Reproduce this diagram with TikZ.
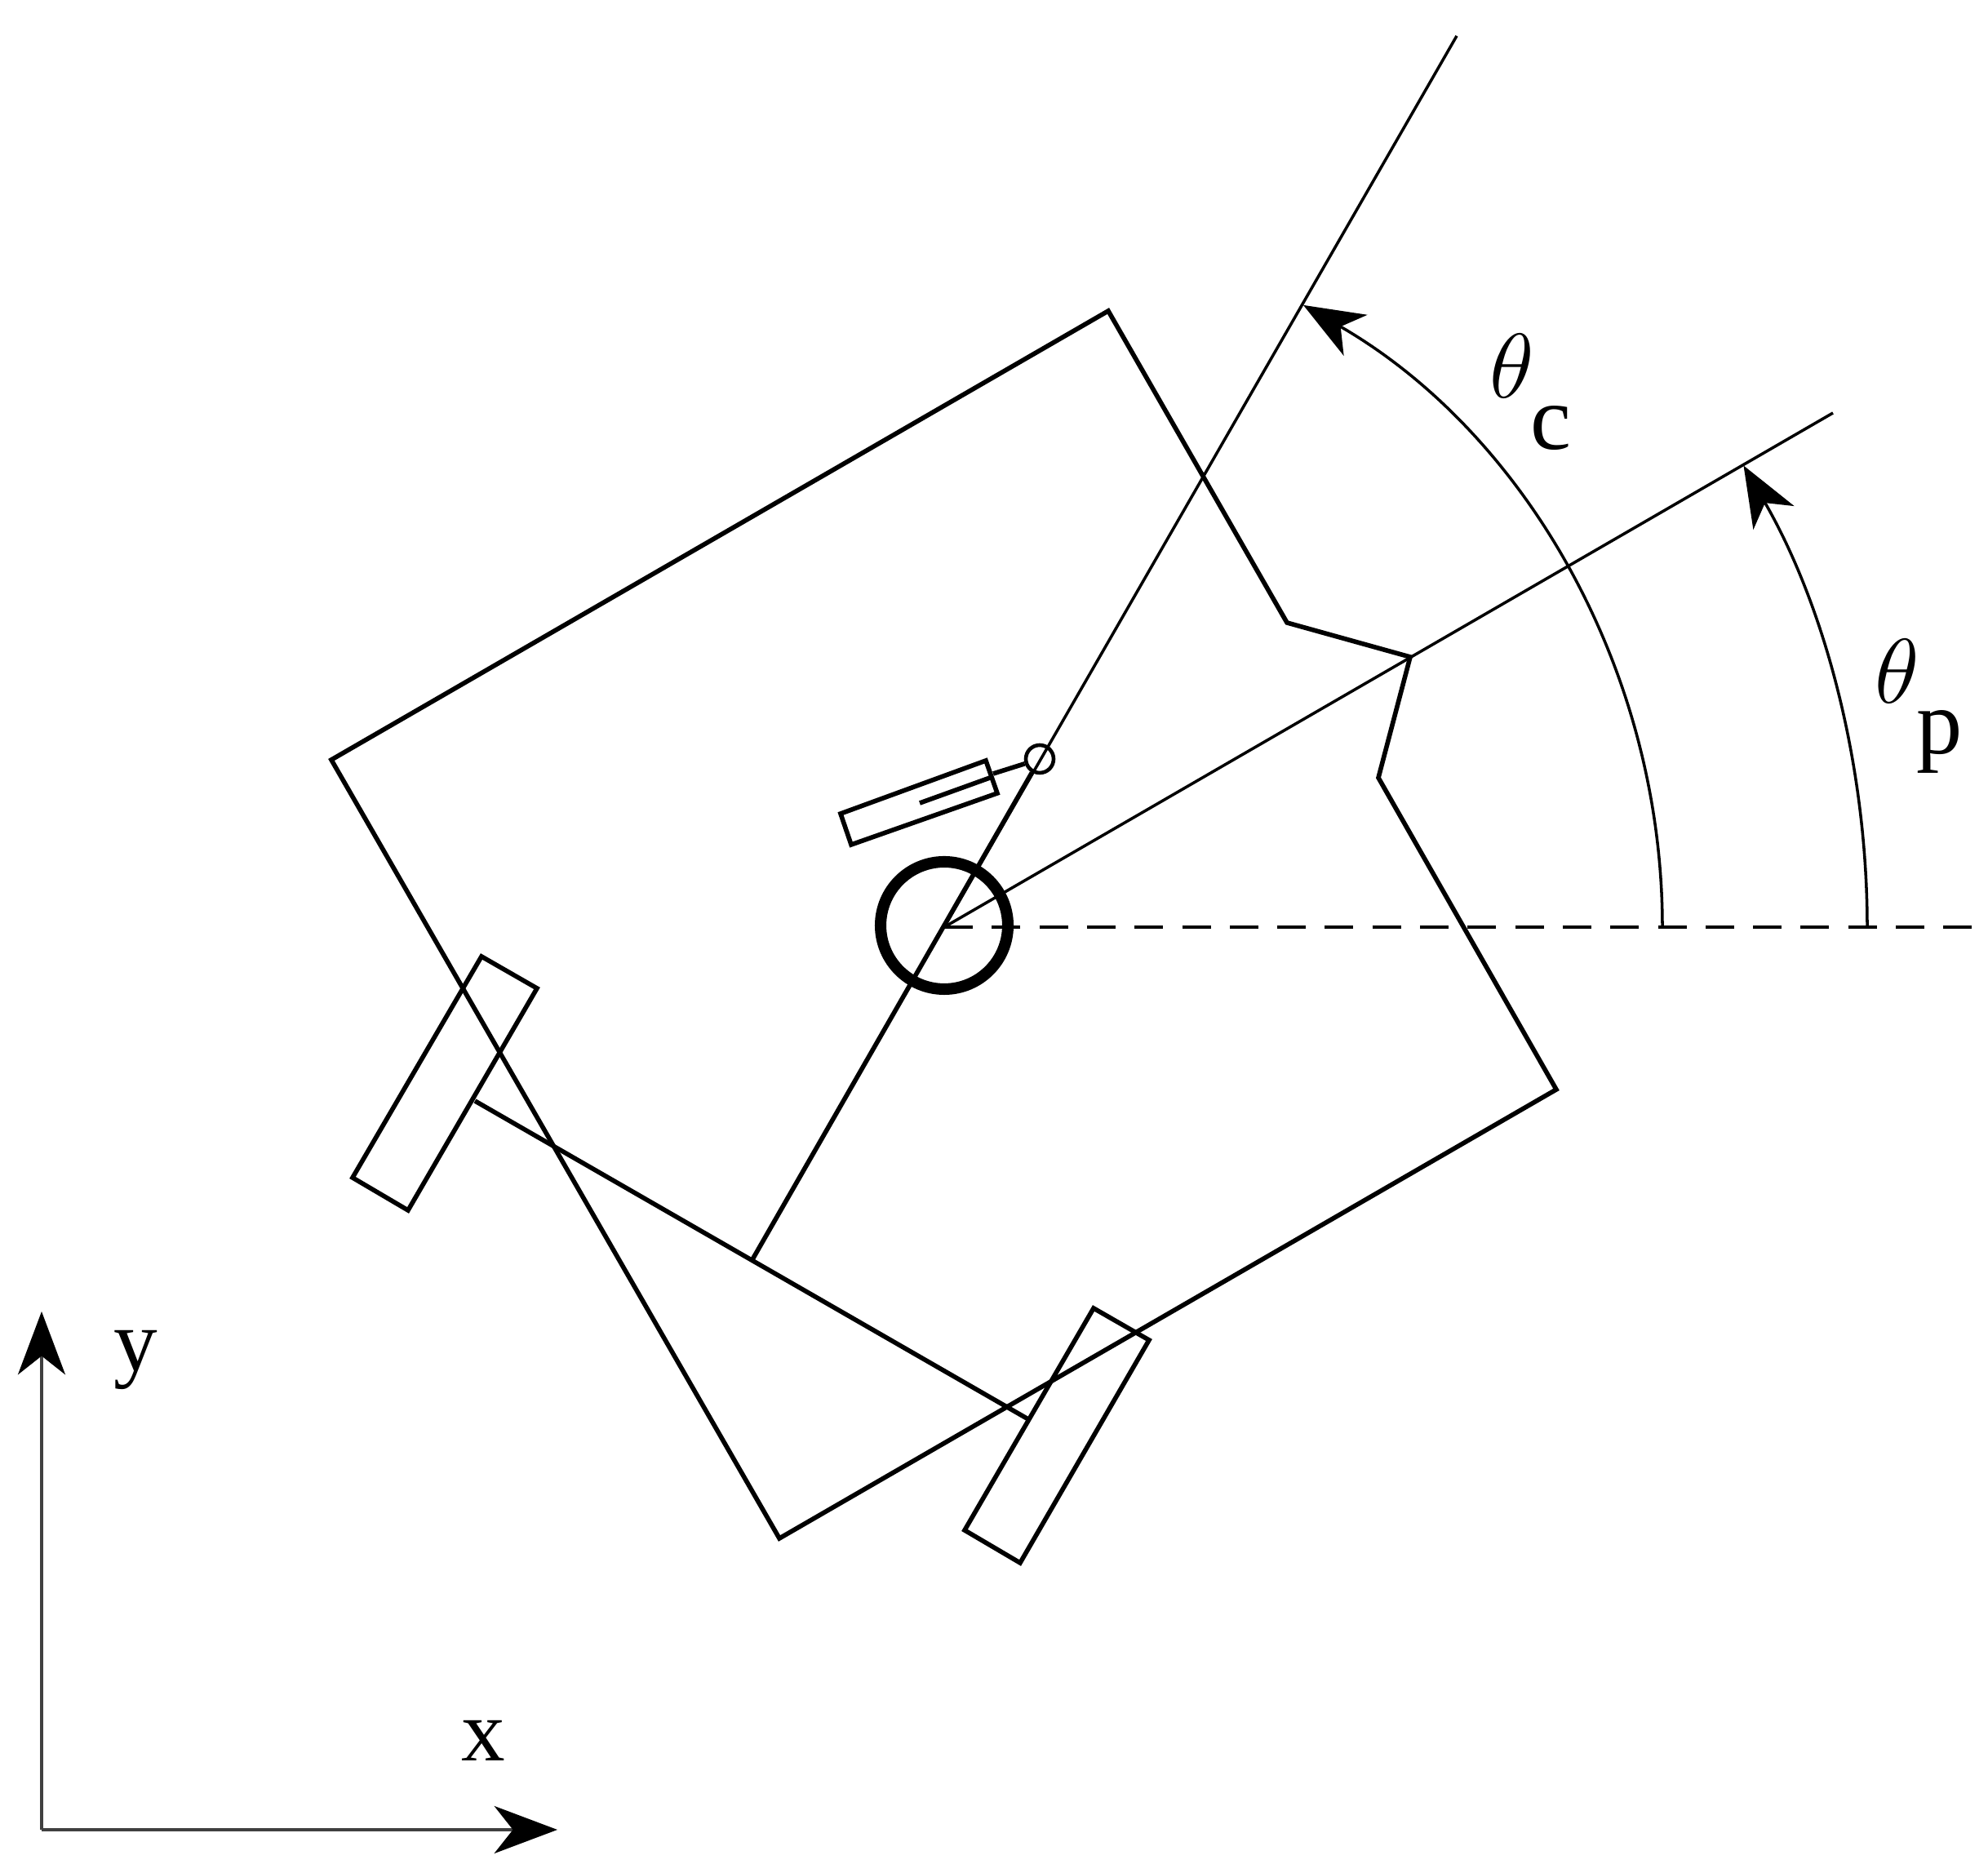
\documentclass[tikz,border=0pt]{standalone}
\usepackage{fix-cm}
\usepackage{fontspec}
\setmainfont{Liberation Serif}
\usetikzlibrary{arrows.meta}
\tikzset{
  grueso/.style={line width=1.6pt, line join=miter},
  fino/.style={line width=1pt},
  angulo/.style={fino, -{Stealth[length=21pt, width=16.4pt, inset=6pt]}},
  eje/.style={line width=1.1pt, draw=black!75, -{Stealth[length=22pt, width=16.5pt, inset=6.5pt, black]}},
  etiqueta/.style={inner sep=0pt, anchor=base west, font=\fontsize{30.5}{36}\selectfont},
  etqangulo/.style={inner sep=0pt, anchor=base west, font=\fontsize{27}{36}\selectfont}
}
\newcommand{\tita}{\fontsize{32}{36}\selectfont$\theta$}
\begin{document}
\begin{tikzpicture}
  \useasboundingbox (0,0) rectangle (24.36,22.95);

  % Puntos de referencia
  \coordinate (pivote) at (11.57,11.59);
  \coordinate (eje0) at (0.51,0.53);
  \coordinate (ejeX) at (6.83,0.53);
  \coordinate (ejeY) at (0.51,6.88);

  % Ejes cartesianos
  \draw[eje] (eje0) -- (ejeX);
  \draw[eje] (eje0) -- (ejeY);
  \node[etiqueta] (etqX) at (5.65,1.37) {x};
  \node[etiqueta] (etqY) at (1.39,6.15) {y};

  % Cuerpo del robot
  \draw[grueso] (13.58,19.14) -- (4.06,13.64) -- (9.55,4.10) -- (19.07,9.60)
    -- (16.89,13.42) -- (17.28,14.90) -- (15.77,15.32) -- cycle;

  % Ruedas y eje de las ruedas
  \draw[grueso] (5.90,11.23) -- (6.58,10.84) -- (5.00,8.12) -- (4.32,8.52) -- cycle;
  \draw[grueso] (13.40,6.92) -- (14.08,6.53) -- (12.50,3.80) -- (11.82,4.20) -- cycle;
  \draw[grueso] (5.82,9.46) -- (12.60,5.56);
  \coordinate (centroEje) at (9.21,7.50);

  % Barra central y ruedecilla
  \node[circle, draw, line width=1.3pt, minimum size=0.34cm, inner sep=0pt] (guia) at (12.74,13.65) {};
  \draw[grueso] (centroEje) -- (guia);
  \draw[grueso] (10.30,12.98) -- (12.08,13.63) -- (12.22,13.23) -- (10.43,12.60) -- cycle;
  \coordinate (bordeRect) at (12.17,13.47);
  \draw[grueso] (bordeRect) -- (guia);
  \draw[grueso] (11.27,13.11) -- (12.13,13.42);

  % Centro de giro
  \draw[line width=4pt] (11.57,11.61) circle (0.78);

  % Rectas de los angulos
  \coordinate (finC) at (17.85,22.51);
  \coordinate (finP) at (22.46,17.89);
  \coordinate (finD) at (24.17,11.59);
  \draw[fino] (pivote) -- (finC);
  \draw[fino] (pivote) -- (finP);
  \draw[line width=1pt, dash pattern=on 0.35cm off 0.233cm] (pivote) -- (finD);

  % Arcos de los angulos
  \draw[angulo] (20.37,11.59) arc (0:60:8.80);
  \draw[angulo] (22.88,11.59) arc (0:30:11.31);

  % Etiquetas de los angulos
  \node[etqangulo] (etqC) at (18.25,18.07) {\tita\kern-0.05cm\raisebox{-0.63cm}{c}};
  \node[etqangulo] (etqP) at (22.97,14.33) {\tita\kern-0.04cm\raisebox{-0.62cm}{p}};
\end{tikzpicture}
\end{document}
